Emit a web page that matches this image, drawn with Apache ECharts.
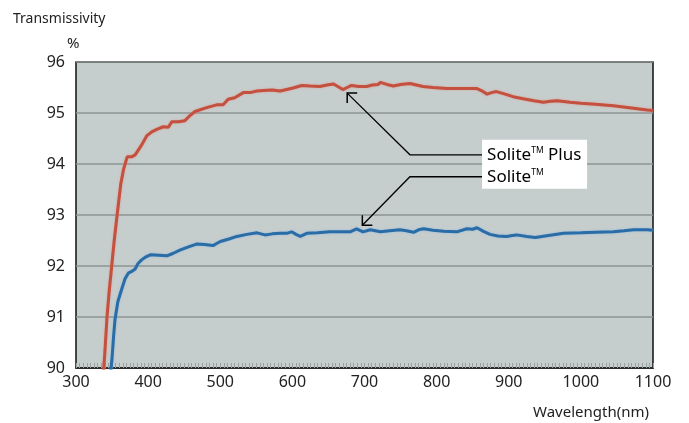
<!DOCTYPE html>
<html>
<head>
<meta charset="utf-8">
<script src="https://cdn.jsdelivr.net/npm/echarts@6/dist/echarts.min.js"></script>
<style>html,body{margin:0;padding:0;background:#fff;}#c{width:689px;height:423px;}</style>
</head>
<body>
<div id="c"></div>
<script>
// ---- data ----
var xTicks = [300, 400, 500, 600, 700, 800, 900, 1000, 1100];
var yTicks = [90, 91, 92, 93, 94, 95, 96];
var plusWl = [338,340,343,346,349.5,353,357,362,366,371,377,382,390,398,405,412,421,428,433,442,451,458,465,480,495,504,511,520,532,541,551,560,572,583,592,601,613,625,638,648,657,663,670,676,682,692,703,711,719,722,731,740,750,763,772,781,795,814,830,845,856,862,870,876,883,895,906,920,935,948,958,967,985,1000,1020,1045,1070,1092,1100];
var plusT = [89.9,90.3,91.0,91.5,92.0,92.5,93.0,93.6,93.9,94.14,94.14,94.18,94.35,94.55,94.63,94.68,94.73,94.72,94.83,94.83,94.85,94.95,95.03,95.1,95.16,95.16,95.27,95.3,95.40,95.40,95.43,95.44,95.45,95.43,95.46,95.49,95.54,95.53,95.52,95.55,95.57,95.52,95.46,95.50,95.54,95.52,95.52,95.55,95.56,95.60,95.56,95.53,95.56,95.58,95.55,95.52,95.50,95.48,95.48,95.48,95.48,95.44,95.37,95.40,95.42,95.37,95.32,95.28,95.24,95.21,95.23,95.24,95.21,95.19,95.17,95.14,95.10,95.06,95.05];
var soliteWl = [348,350,352,354,358,363,368,372.5,378,382,386,391,397,403,415,426,435,444,455,467,478,490,495,500,512,523,537,551,562,572,583,592,599,605,611,620,635,652,665,680,689,698,708,722,735,749,758,768,775,782,795,810,828,842,850,856,865,874,885,897,905,911,925,937,955,976,1000,1020,1045,1060,1073,1092,1100];
var soliteT = [89.9,90.2,90.6,90.94,91.3,91.53,91.75,91.86,91.9,91.94,92.05,92.12,92.18,92.22,92.21,92.20,92.25,92.31,92.37,92.43,92.42,92.40,92.44,92.48,92.53,92.58,92.62,92.65,92.61,92.63,92.64,92.64,92.67,92.62,92.58,92.64,92.65,92.67,92.67,92.67,92.73,92.67,92.71,92.67,92.69,92.71,92.69,92.66,92.71,92.73,92.70,92.68,92.67,92.73,92.72,92.75,92.68,92.62,92.59,92.58,92.60,92.61,92.58,92.56,92.60,92.64,92.65,92.66,92.67,92.69,92.71,92.71,92.70];
// annotation leader lines in data coordinates: [tip, bend, end]
var plusLeader = [[676, 95.39], [763, 94.18], [863, 94.18]];
var soliteLeader = [[697, 92.80], [763, 93.75], [863, 93.75]];
var legendNames = ['Solite', 'Solite'];

function pairs(xs, ys){ return xs.map(function(x,i){ return [x, ys[i]]; }); }

var FONT = '"Noto Sans", "Open Sans", sans-serif';
var chart = echarts.init(document.getElementById('c'), null, {renderer:'canvas'});
var option = {
  animation: false,
  backgroundColor: '#ffffff',
  grid: { left: 76, right: 36, top: 62, bottom: 55, show: true,
          backgroundColor: '#c6cdcd', borderColor: '#111', borderWidth: 1.5 },
  xAxis: {
    type: 'value', min: 300, max: 1100, interval: 100,
    axisLine: { show: true, lineStyle: { color: '#111', width: 1.5 } },
    axisTick: { show: true, inside: true, length: 5, lineStyle: { color: '#9aa0a0' } },
    minorTick: { show: true, splitNumber: 20, length: 5, lineStyle: { color: '#9aa0a0' } },
    splitLine: { show: false },
    axisLabel: { fontFamily: FONT, fontSize: 16, color: '#222', margin: 6, formatter: function(v){ return String(v); } }
  },
  yAxis: {
    type: 'value', min: 90, max: 96, interval: 1,
    axisLine: { show: false }, axisTick: { show: false },
    splitLine: { show: true, lineStyle: { color: '#8c9393', width: 1.5 } },
    axisLabel: { fontFamily: FONT, fontSize: 16, color: '#222', margin: 11 }
  },
  series: [
    { name: 'Solite Plus', type: 'line', data: pairs(plusWl, plusT), showSymbol: false, smooth: false,
      lineStyle: { color: '#c4503f', width: 3, shadowColor: 'rgba(230,140,120,0.7)', shadowBlur: 2 } },
    { name: 'Solite', type: 'line', data: pairs(soliteWl, soliteT), showSymbol: false, smooth: false,
      lineStyle: { color: '#2a6ca6', width: 3, shadowColor: 'rgba(120,180,230,0.7)', shadowBlur: 2 } }
  ]
};
chart.setOption(option);

function px(p){ return chart.convertToPixel({gridIndex:0}, p); }
function leaderGraphics(leader, armDirs){
  var pts = leader.map(px);
  var tip = pts[0];
  var a1 = [tip[0] + armDirs[0][0]*10, tip[1] + armDirs[0][1]*10];
  var a2 = [tip[0] + armDirs[1][0]*10, tip[1] + armDirs[1][1]*10];
  return [
    { type: 'polyline', shape: { points: pts }, style: { stroke: '#000', lineWidth: 1.3, fill: null }, z: 100 },
    { type: 'polyline', shape: { points: [a1, tip, a2] }, style: { stroke: '#000', lineWidth: 1.5, fill: null }, z: 100 }
  ];
}
var g = [];
g = g.concat(leaderGraphics(plusLeader, [[1,0],[0,1]]));
g = g.concat(leaderGraphics(soliteLeader, [[1,0],[0,-1]]));
var e1 = px(plusLeader[2]), e2 = px(soliteLeader[2]);
g.push({ type: 'rect', shape: { x: e1[0], y: e1[1] - 15, width: 105, height: 49 }, style: { fill: '#ffffff' }, z: 101 });
var rich = { b: { fontFamily: FONT, fontSize: 17, color: '#111' }, s: { fontFamily: FONT, fontSize: 8.5, color: '#111', verticalAlign: 'top', padding: [0,0,8,0] } };
g.push({ type: 'text', x: e1[0] + 5, y: e1[1], z: 102, style: { text: '{b|' + legendNames[0] + '}{s|TM}{b| Plus}', rich: rich, verticalAlign: 'middle' } });
g.push({ type: 'text', x: e2[0] + 5, y: e2[1], z: 102, style: { text: '{b|' + legendNames[1] + '}{s|TM}', rich: rich, verticalAlign: 'middle' } });
g.push({ type: 'text', x: 13, y: 19, style: { text: 'Transmissivity', fontFamily: FONT, fontSize: 14, fill: '#222', verticalAlign: 'middle' } });
g.push({ type: 'text', x: 67, y: 44, style: { text: '%', fontFamily: FONT, fontSize: 15, fill: '#222', verticalAlign: 'middle' } });
g.push({ type: 'text', x: 649, y: 413, style: { text: 'Wavelength(nm)', fontFamily: FONT, fontSize: 15, fill: '#222', align: 'right', verticalAlign: 'middle' } });
chart.setOption({ graphic: g });
</script>
</body>
</html>
